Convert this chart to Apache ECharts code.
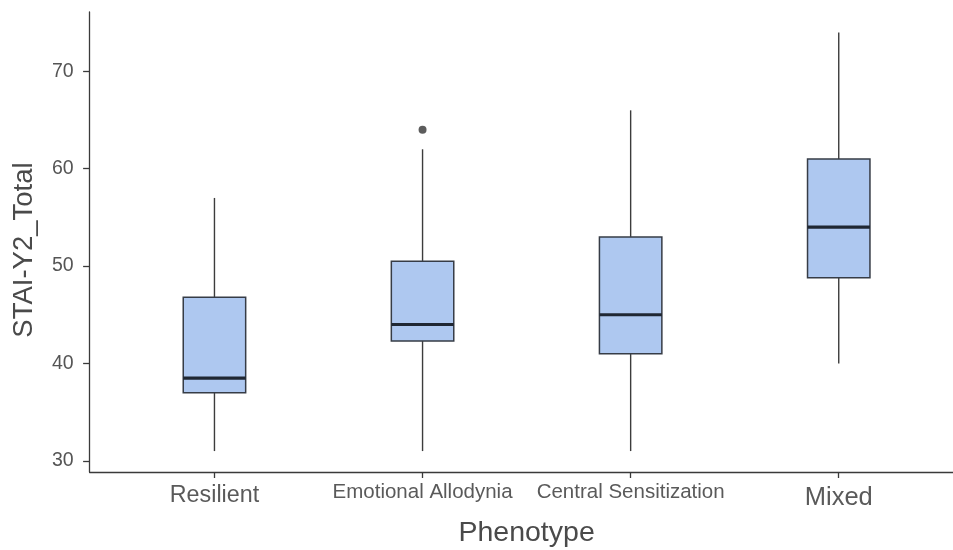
<!DOCTYPE html>
<html>
<head>
<meta charset="utf-8">
<script src="https://cdn.jsdelivr.net/npm/echarts@6/dist/echarts.min.js"></script>
<style>html,body{margin:0;padding:0;background:#fff;}#c{width:953px;height:550px;}</style>
</head>
<body>
<div id="c"></div>
<script>
// ---- data ----
const categories = ['Resilient', 'Emotional Allodynia', 'Central Sensitization', 'Mixed'];
const lowerWhisker = [31, 31, 31, 40];
const q1 = [37, 42.3, 41, 48.8];
const median = [38.5, 44, 45, 54];
const q3 = [46.8, 50.5, 53, 61];
const upperWhisker = [57, 62, 66, 74];
const outliers = [[2, 64]]; // [category position, value]
const yTicks = [30, 40, 50, 60, 70];
const xTicks = [1, 2, 3, 4];

const boxData = categories.map((c, i) => [i + 1, lowerWhisker[i], q1[i], median[i], q3[i], upperWhisker[i]]);
const labelStyleKey = ['a', 'b', 'b', 'c'];

const chart = echarts.init(document.getElementById('c'), null, {renderer: 'canvas'});
const font = 'Liberation Sans, Arial, sans-serif';

chart.setOption({
  animation: false,
  backgroundColor: '#ffffff',
  grid: {left: 89.6, top: 12, width: 874, height: 460, containLabel: false, outerBoundsMode: 'none'},
  xAxis: {
    type: 'value', min: 0.4, max: 4.6,
    name: 'Phenotype', nameLocation: 'middle', nameGap: 46,
    nameTextStyle: {fontFamily: font, fontSize: 28.5, color: '#4a4a4a', lineHeight: 30},
    axisLine: {show: true, onZero: false, lineStyle: {color: '#3a3a3a', width: 1.3}},
    axisTick: {show: true, length: 6, customValues: xTicks, lineStyle: {color: '#3a3a3a', width: 1.3}},
    splitLine: {show: false},
    axisLabel: {
      customValues: xTicks, margin: 10,
      formatter: v => { const i = Math.round(v) - 1; return '{' + labelStyleKey[i] + '|' + categories[i] + '}'; },
      rich: {
        a: {fontFamily: font, fontSize: 23.3, color: '#5a5a5a', lineHeight: 28},
        b: {fontFamily: font, fontSize: 20.5, color: '#5a5a5a', lineHeight: 21},
        c: {fontFamily: font, fontSize: 25.5, color: '#5a5a5a', lineHeight: 32}
      }
    }
  },
  yAxis: {
    type: 'value', min: 28.85, max: 76.1,
    axisLine: {show: true, onZero: false, lineStyle: {color: '#3a3a3a', width: 1.3}},
    axisTick: {show: true, length: 6.5, customValues: yTicks, lineStyle: {color: '#3a3a3a', width: 1.3}},
    splitLine: {show: false},
    axisLabel: {customValues: yTicks, margin: 16, fontFamily: font, fontSize: 19.5, color: '#555555'}
  },
  graphic: [{
    type: 'text', x: 24, y: 250, rotation: Math.PI / 2,
    style: {text: 'STAI-Y2_Total', font: '27.5px ' + font, fill: '#4a4a4a', align: 'center', verticalAlign: 'middle'}
  }],
  series: [{
    type: 'custom',
    clip: false,
    data: boxData,
    encode: {x: 0, y: [1, 2, 3, 4, 5]},
    renderItem: function (params, api) {
      const x = api.value(0);
      const half = api.size([0.3, 0])[0] / 2;
      const pLo = api.coord([x, api.value(1)]);
      const pQ1 = api.coord([x, api.value(2)]);
      const pMed = api.coord([x, api.value(3)]);
      const pQ3 = api.coord([x, api.value(4)]);
      const pHi = api.coord([x, api.value(5)]);
      const lineStyle = {stroke: '#3c3c3c', lineWidth: 1.4};
      return {
        type: 'group',
        children: [
          {type: 'line', shape: {x1: pLo[0], y1: pLo[1], x2: pQ1[0], y2: pQ1[1]}, style: lineStyle},
          {type: 'line', shape: {x1: pQ3[0], y1: pQ3[1], x2: pHi[0], y2: pHi[1]}, style: lineStyle},
          {type: 'rect', shape: {x: pQ3[0] - half, y: pQ3[1], width: half * 2, height: pQ1[1] - pQ3[1]},
            style: {fill: '#aec8f0', stroke: '#363c46', lineWidth: 1.5}},
          {type: 'line', shape: {x1: pMed[0] - half, y1: pMed[1], x2: pMed[0] + half, y2: pMed[1]},
            style: {stroke: '#1f2733', lineWidth: 3.2}}
        ]
      };
    }
  }, {
    type: 'scatter',
    data: outliers,
    symbol: 'circle', symbolSize: 8,
    itemStyle: {color: '#333333'}
  }]
});
</script>
</body>
</html>
